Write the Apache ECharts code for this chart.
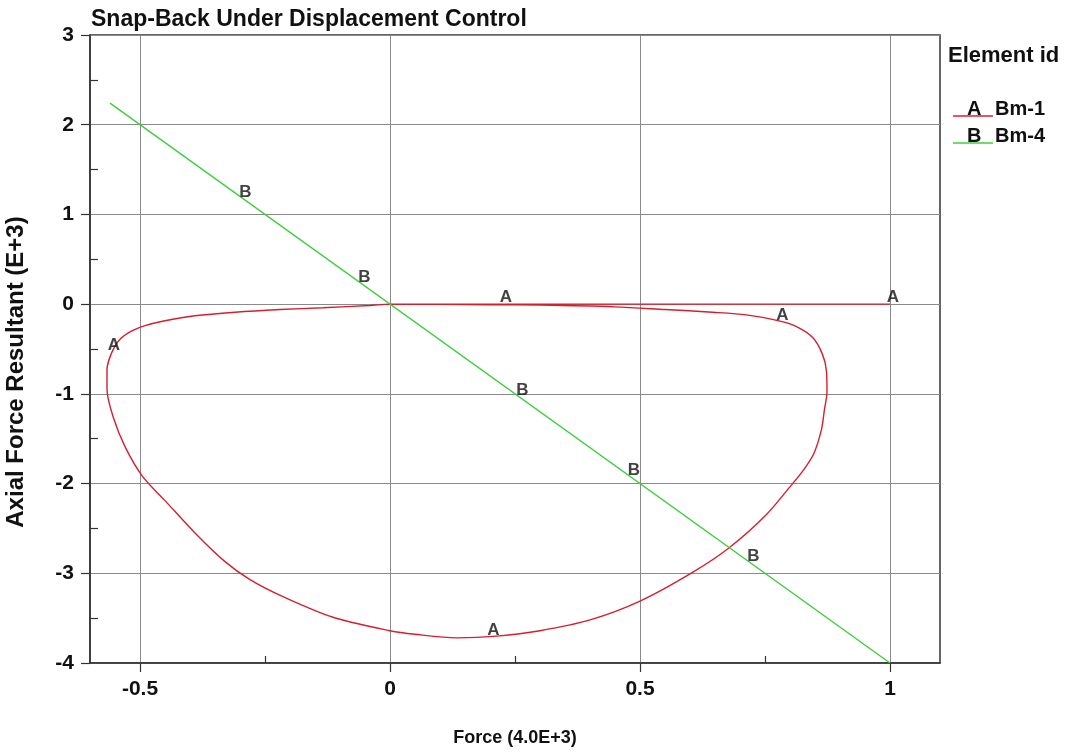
<!DOCTYPE html>
<html>
<head>
<meta charset="utf-8">
<script src="https://cdn.jsdelivr.net/npm/echarts@6/dist/echarts.min.js"></script>
<style>
  html, body { margin: 0; padding: 0; background: #fff; }
  #chart { width: 1074px; height: 753px; }
</style>
</head>
<body>
<div id="chart"></div>
<script>
// Plot text
const chartTitle = 'Snap-Back Under Displacement Control';
const xAxisName = 'Force (4.0E+3)';
const yAxisName = 'Axial Force Resultant (E+3)';
const legendTitle = 'Element id';

// Axis ranges and tick values
const xRange = [-0.6, 1.1];
const yRange = [-4, 3];
const xMajorTicks = [-0.5, 0, 0.5, 1];
const xMinorTicks = [-0.25, 0.25, 0.75];
const yMajorTicks = [-4, -3, -2, -1, 0, 1, 2, 3];
const yMinorTicks = [-3.5, -2.5, -1.5, -0.5, 0.5, 1.5, 2.5];

// Curve identifiers
const seriesNames = ['Bm-1', 'Bm-4'];
const seriesTags = ['A', 'B'];
const seriesColors = ['#d4202e', '#3ccf3c'];

// Bm-1: force vs axial force resultant (snap-back loop, then the straight branch)
const bm1Points = [
  [0, 0], [0.1, -0.003], [0.2, -0.006], [0.3, -0.01], [0.45, -0.03],
  [0.55, -0.06], [0.645, -0.09], [0.713, -0.12], [0.78, -0.19],
  [0.813, -0.25], [0.845, -0.37], [0.865, -0.56], [0.873, -0.75], [0.874, -0.98],
  [0.869, -1.17], [0.863, -1.395], [0.847, -1.674], [0.825, -1.864], [0.799, -2.042],
  [0.753, -2.344], [0.679, -2.712], [0.605, -2.99], [0.5, -3.31], [0.4, -3.52],
  [0.3, -3.64], [0.214, -3.70], [0.134, -3.72], [0.05, -3.68], [0, -3.64],
  [-0.114, -3.49], [-0.214, -3.26], [-0.28, -3.07], [-0.33, -2.87], [-0.39, -2.55],
  [-0.45, -2.19], [-0.495, -1.92], [-0.529, -1.6], [-0.553, -1.27], [-0.566, -0.95],
  [-0.566, -0.73], [-0.558, -0.56], [-0.543, -0.41], [-0.52, -0.31], [-0.49, -0.24],
  [-0.455, -0.19], [-0.39, -0.13], [-0.31, -0.09], [-0.22, -0.06], [-0.134, -0.04],
  [-0.04, -0.015], [0, 0], [0.5, 0], [1.0, 0]
];

// Bm-4: straight line
const bm4Points = [[-0.56, 2.24], [1.0, -4.0]];

// Points where the curve tags are printed
const bm1TagPoints = [[-0.552, -0.55], [0.232, -0.02], [0.785, -0.22], [1.006, -0.02], [0.207, -3.73]];
const bm4TagPoints = [[-0.289, 1.156], [-0.051, 0.204], [0.265, -1.06], [0.488, -1.952], [0.727, -2.908]];

const FONT = '"Liberation Sans", Arial, Helvetica, sans-serif';
const INK = '#111';

const chart = echarts.init(document.getElementById('chart'), null, { renderer: 'canvas' });

function tagSeries(points, tag) {
  return {
    type: 'scatter',
    data: points,
    symbolSize: 0,
    silent: true,
    z: 5,
    label: {
      show: true,
      position: 'top',
      distance: 0,
      formatter: tag,
      color: INK,
      fontFamily: FONT,
      fontSize: 17,
      fontWeight: 'bold'
    }
  };
}

// Legend drawn as tag letter over a colour stroke, followed by the element name
const legendGraphic = [
  {
    type: 'text', left: 948, top: 45,
    style: { text: legendTitle, font: 'bold 22px ' + FONT, fill: INK }
  }
];
seriesNames.forEach(function (name, i) {
  const y = 116 + i * 27;
  legendGraphic.push({
    type: 'line',
    shape: { x1: 953, y1: y, x2: 993, y2: y },
    style: { stroke: seriesColors[i], lineWidth: 1.4 }
  });
  legendGraphic.push({
    type: 'text', left: 967, top: y - 17,
    style: { text: seriesTags[i], font: 'bold 20px ' + FONT, fill: INK }
  });
  legendGraphic.push({
    type: 'text', left: 995, top: y - 17,
    style: { text: name, font: 'bold 20px ' + FONT, fill: INK }
  });
});

const labelStyle = { color: INK, fontFamily: FONT, fontSize: 21, fontWeight: 'bold' };

const option = {
  backgroundColor: '#fff',
  animation: false,
  title: {
    text: chartTitle,
    left: 86, top: 3,
    textStyle: { color: INK, fontFamily: FONT, fontSize: 23, fontWeight: 'bold' }
  },
  grid: {
    left: 90, right: 134, top: 35, bottom: 90,
    containLabel: false, outerBoundsMode: 'none',
    show: true, borderColor: '#333', borderWidth: 1.5, backgroundColor: 'transparent'
  },
  xAxis: [
    {
      type: 'value', min: xRange[0], max: xRange[1],
      name: xAxisName, nameLocation: 'middle', nameGap: 66,
      nameTextStyle: { color: INK, fontFamily: FONT, fontSize: 18, fontWeight: 'bold' },
      axisLine: { show: true, onZero: false, lineStyle: { color: '#333', width: 1.5 } },
      axisTick: { show: true, inside: false, length: 9, customValues: xMajorTicks, lineStyle: { color: '#333', width: 1.2 } },
      axisLabel: Object.assign({ margin: 16, customValues: xMajorTicks, formatter: v => String(v) }, labelStyle),
      splitLine: { show: true, lineStyle: { color: '#8a8a8a', width: 1 } }
    },
    {
      type: 'value', min: xRange[0], max: xRange[1], position: 'bottom', offset: 0,
      axisLine: { show: false, onZero: false },
      axisTick: { show: true, inside: true, length: 7, customValues: xMinorTicks, lineStyle: { color: '#333', width: 1.2 } },
      axisLabel: { show: false },
      splitLine: { show: false }
    }
  ],
  yAxis: [
    {
      type: 'value', min: yRange[0], max: yRange[1], interval: 1,
      name: yAxisName, nameLocation: 'middle', nameGap: 62,
      nameTextStyle: { color: INK, fontFamily: FONT, fontSize: 24, fontWeight: 'bold', padding: [0, 46, 0, 0] },
      axisLine: { show: true, onZero: false, lineStyle: { color: '#333', width: 1.5 } },
      axisTick: { show: true, inside: false, length: 9, customValues: yMajorTicks, lineStyle: { color: '#333', width: 1.2 } },
      axisLabel: Object.assign({ margin: 16, customValues: yMajorTicks, formatter: v => String(v) }, labelStyle),
      splitLine: { show: true, lineStyle: { color: '#8a8a8a', width: 1 } }
    },
    {
      type: 'value', min: yRange[0], max: yRange[1], position: 'left', offset: 0,
      axisLine: { show: false, onZero: false },
      axisTick: { show: true, inside: true, length: 8, customValues: yMinorTicks, lineStyle: { color: '#333', width: 1.2 } },
      axisLabel: { show: false },
      splitLine: { show: false }
    }
  ],
  graphic: legendGraphic,
  series: [
    {
      name: seriesNames[0], type: 'line', data: bm1Points,
      showSymbol: false, symbol: 'none', smooth: 0.3, z: 3,
      lineStyle: { color: seriesColors[0], width: 1.4 }
    },
    {
      name: seriesNames[1], type: 'line', data: bm4Points,
      showSymbol: false, symbol: 'none', z: 3,
      lineStyle: { color: seriesColors[1], width: 1.4 }
    },
    tagSeries(bm1TagPoints, seriesTags[0]),
    tagSeries(bm4TagPoints, seriesTags[1])
  ]
};

chart.setOption(option);
</script>
</body>
</html>
